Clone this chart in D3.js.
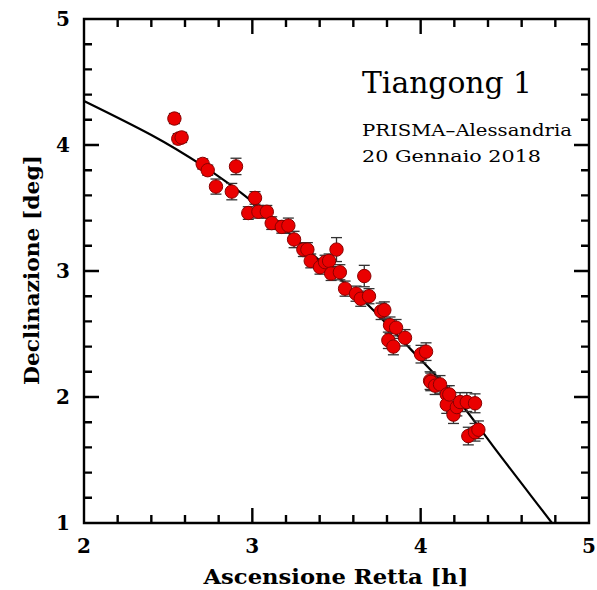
<!DOCTYPE html>
<html>
<head>
<meta charset="utf-8">
<script src="https://cdn.jsdelivr.net/npm/d3@7/dist/d3.min.js"></script>
<style>
  html, body { margin: 0; padding: 0; background: #fff; }
  svg { display: block; }
</style>
</head>
<body>
<svg id="chart" width="597" height="590"></svg>
<script>
// Observed positions of Tiangong 1 (right ascension in hours, declination in degrees)
const ra = [2.537, 2.560, 2.580, 2.705, 2.735, 2.784, 2.878, 2.903, 2.976, 3.016,
            3.036, 3.086, 3.115, 3.175, 3.214, 3.248, 3.303, 3.327, 3.347, 3.402,
            3.432, 3.456, 3.468, 3.500, 3.520, 3.551, 3.616, 3.644, 3.665, 3.693,
            3.765, 3.784, 3.808, 3.818, 3.838, 3.854, 3.907, 4.002, 4.032, 4.056,
            4.060, 4.086, 4.115, 4.155, 4.155, 4.170, 4.195, 4.215, 4.234, 4.274,
            4.283, 4.323, 4.323, 4.343];
const dec = [4.21, 4.05, 4.06, 3.85, 3.80, 3.67, 3.63, 3.83, 3.46, 3.58,
             3.47, 3.47, 3.38, 3.35, 3.36, 3.25, 3.17, 3.17, 3.08, 3.03,
             3.07, 3.08, 2.98, 3.17, 2.99, 2.86, 2.82, 2.78, 2.96, 2.80,
             2.68, 2.69, 2.45, 2.57, 2.40, 2.55, 2.47, 2.34, 2.36, 2.13,
             2.12, 2.09, 2.10, 2.02, 1.94, 2.02, 1.86, 1.92, 1.96, 1.96,
             1.69, 1.72, 1.95, 1.74];
const decErr = [0.04, 0.04, 0.04, 0.04, 0.04, 0.06, 0.065, 0.065, 0.05, 0.05,
                0.05, 0.05, 0.05, 0.05, 0.06, 0.065, 0.055, 0.055, 0.055, 0.055,
                0.055, 0.055, 0.055, 0.095, 0.06, 0.06, 0.06, 0.06, 0.085, 0.06,
                0.065, 0.065, 0.065, 0.065, 0.065, 0.065, 0.065, 0.07, 0.07, 0.07,
                0.07, 0.07, 0.07, 0.07, 0.07, 0.07, 0.07, 0.07, 0.075, 0.075,
                0.07, 0.07, 0.075, 0.07];

// Predicted track (ephemeris)
const trackRa  = [2.00, 2.40, 2.70, 3.00, 3.36, 3.68, 3.94, 4.20, 4.43, 4.78, 4.90];
const trackDec = [4.35, 4.08, 3.84, 3.55, 3.13, 2.74, 2.38, 2.01, 1.61, 1.00, 0.78];

// Axis ticks
const xMajor = [2, 3, 4, 5];
const yMajor = [1, 2, 3, 4, 5];
const xMinor = [2.2, 2.4, 2.6, 2.8, 3.2, 3.4, 3.6, 3.8, 4.2, 4.4, 4.6, 4.8];
const yMinor = [1.2, 1.4, 1.6, 1.8, 2.2, 2.4, 2.6, 2.8, 3.2, 3.4, 3.6, 3.8, 4.2, 4.4, 4.6, 4.8];

const plotL = 84, plotR = 589, plotT = 19, plotB = 523;
const svg = d3.select("#chart");

const xScale = d3.scaleLinear().domain([2, 5]).range([plotL, plotR]);
const yScale = d3.scaleLinear().domain([1, 5]).range([plotB, plotT]);

svg.append("defs").append("clipPath").attr("id", "plot")
  .append("rect").attr("x", plotL).attr("y", plotT)
  .attr("width", plotR - plotL).attr("height", plotB - plotT);

const serif = "'DejaVu Serif', serif";
const majorLen = 15, minorLen = 8;

// frame box and inward tick marks on all four sides, as one outline
const fp = d3.path();
fp.moveTo(plotL, plotT); fp.lineTo(plotR, plotT); fp.lineTo(plotR, plotB);
fp.lineTo(plotL, plotB); fp.closePath();
const tickSpecs = xMajor.map(v => [v, majorLen]).concat(xMinor.map(v => [v, minorLen]));
tickSpecs.forEach(([v, len]) => {
  const px = xScale(v);
  fp.moveTo(px, plotB); fp.lineTo(px, plotB - len);
  fp.moveTo(px, plotT); fp.lineTo(px, plotT + len);
});
const yTickSpecs = yMajor.map(v => [v, majorLen]).concat(yMinor.map(v => [v, minorLen]));
yTickSpecs.forEach(([v, len]) => {
  const py = yScale(v);
  fp.moveTo(plotL, py); fp.lineTo(plotL + len, py);
  fp.moveTo(plotR, py); fp.lineTo(plotR - len, py);
});
svg.append("path").attr("d", fp.toString())
  .attr("fill", "none").attr("stroke", "#000").attr("stroke-width", 2.4);

// tick labels
svg.append("g").selectAll("text").data(xMajor).join("text")
  .attr("x", d => xScale(d)).attr("y", plotB + 30)
  .attr("text-anchor", "middle").attr("font-family", serif).attr("font-weight", "bold")
  .attr("font-size", 20).text(d => d);
svg.append("g").selectAll("text").data(yMajor).join("text")
  .attr("x", plotL - 14).attr("y", d => yScale(d) + 7)
  .attr("text-anchor", "end").attr("font-family", serif).attr("font-weight", "bold")
  .attr("font-size", 20).text(d => d);

// predicted track
const track = trackRa.map((r, i) => [r, trackDec[i]]);
svg.append("path").datum(track)
  .attr("clip-path", "url(#plot)")
  .attr("fill", "none").attr("stroke", "#000").attr("stroke-width", 2.2)
  .attr("d", d3.line().x(d => xScale(d[0])).y(d => yScale(d[1])).curve(d3.curveNatural));

// observations with declination error bars
const obs = ra.map((r, i) => ({ ra: r, dec: dec[i], err: decErr[i] }));
const eb = svg.append("g").attr("stroke", "#333").attr("stroke-width", 1.3).attr("fill", "none");
obs.forEach(d => {
  const y0 = yScale(d.dec - d.err), y1 = yScale(d.dec + d.err), cx = xScale(d.ra);
  eb.append("line").attr("x1", cx).attr("x2", cx).attr("y1", y0).attr("y2", y1);
  eb.append("line").attr("x1", cx - 5.5).attr("x2", cx + 5.5).attr("y1", y0).attr("y2", y0);
  eb.append("line").attr("x1", cx - 5.5).attr("x2", cx + 5.5).attr("y1", y1).attr("y2", y1);
});
svg.append("g").selectAll("circle").data(obs).join("circle")
  .attr("cx", d => xScale(d.ra)).attr("cy", d => yScale(d.dec)).attr("r", 6.7)
  .attr("fill", "#ea0000").attr("stroke", "#8a0000").attr("stroke-width", 1);

// axis titles
svg.append("text").attr("x", (plotL + plotR) / 2 - 0.5).attr("y", 584)
  .attr("text-anchor", "middle").attr("font-family", serif).attr("font-weight", "bold")
  .attr("font-size", 20).attr("textLength", 265).attr("lengthAdjust", "spacingAndGlyphs")
  .text("Ascensione Retta [h]");
svg.append("text").attr("transform", "translate(39,270) rotate(-90)")
  .attr("text-anchor", "middle").attr("font-family", serif).attr("font-weight", "bold")
  .attr("font-size", 20).attr("textLength", 230).attr("lengthAdjust", "spacingAndGlyphs")
  .text("Declinazione [deg]");

// annotation
svg.append("text").attr("x", 362).attr("y", 92.5)
  .attr("font-family", serif).attr("font-size", 29)
  .attr("textLength", 170).attr("lengthAdjust", "spacingAndGlyphs")
  .text("Tiangong 1");
svg.append("text").attr("x", 362).attr("y", 136)
  .attr("font-family", serif).attr("font-size", 17)
  .attr("textLength", 210).attr("lengthAdjust", "spacingAndGlyphs")
  .text("PRISMA\u2013Alessandria");
svg.append("text").attr("x", 362).attr("y", 161.5)
  .attr("font-family", serif).attr("font-size", 17)
  .attr("textLength", 179).attr("lengthAdjust", "spacingAndGlyphs")
  .text("20 Gennaio 2018");
</script>
</body>
</html>
